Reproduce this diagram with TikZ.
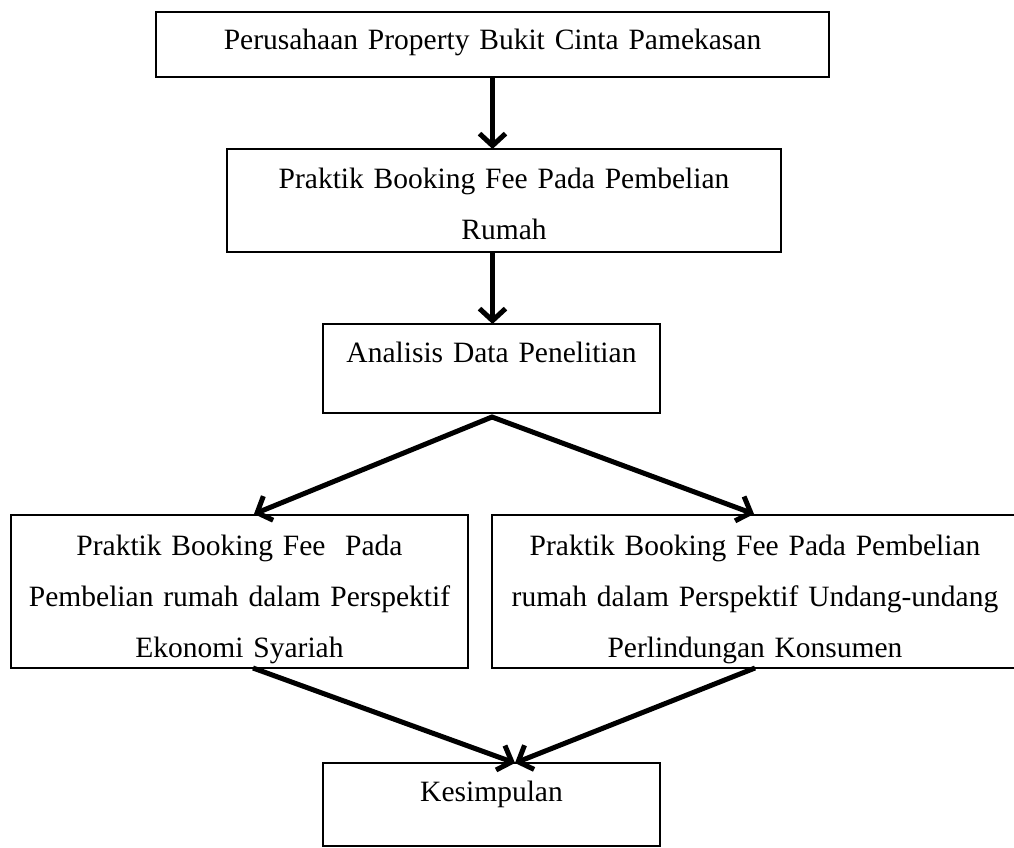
\documentclass[tikz,border=0pt]{standalone}
\usepackage{fontspec}
\setmainfont{Liberation Serif}
\usetikzlibrary{arrows.meta,calc}
\begin{document}
\begin{tikzpicture}[x=1pt,y=-1pt,
  box/.style={draw=black, line width=1.5pt, inner sep=0pt, outer sep=0pt, rectangle},
  txt/.style={inner sep=0pt, outer sep=0pt, align=center, anchor=base, font=\fontsize{29.5}{51}\selectfont},
  tipshape/.tip={Straight Barb[length=12pt,width=26pt]},
  arr/.style={line width=5pt, line join=miter, -tipshape}]
\useasboundingbox (0,0) rectangle (1014,848);
\clip (0,0) rectangle (1014,848);
% boxes
\node[box, minimum width=673pt, minimum height=65pt]  (b1) at (492.5,44.5) {};
\node[box, minimum width=554pt, minimum height=103pt] (b2) at (504,200.5) {};
\node[box, minimum width=337pt, minimum height=89pt]  (b3) at (491.5,368.5) {};
\node[box, minimum width=457pt, minimum height=153pt] (b4) at (239.5,591.5) {};
\node[box, minimum width=526pt, minimum height=153pt] (b5) at (755,591.5) {};
\node[box, minimum width=337pt, minimum height=83pt]  (b6) at (491.5,804.5) {};
% texts
\node[txt, text width=660pt] (t1) at (492.5,50) {Perusahaan Property Bukit Cinta Pamekasan};
\node[txt, text width=540pt] (t2) at (504,188) {Praktik Booking Fee Pada Pembelian\\Rumah};
\node[txt, text width=320pt] (t3) at (491.5,362) {Analisis Data Penelitian};
\node[txt, text width=445pt] (t4) at (239.5,555) {Praktik Booking Fee\ \ Pada\\Pembelian rumah dalam Perspektif\\Ekonomi Syariah};
\node[txt, text width=510pt] (t5) at (755,555) {Praktik Booking Fee Pada Pembelian\\rumah dalam Perspektif Undang-undang\\Perlindungan Konsumen};
\node[txt, text width=320pt] (t6) at (491.5,801) {Kesimpulan};
% connectors
\draw[arr] (b1.south) -- (b1.south |- b2.north);
\draw[arr] (b1.south |- b2.south) -- (b1.south |- b3.north);
\coordinate (split) at ($(b3.south)+(0.5,4)$);
\draw[arr, tipshape-tipshape] ($(b4.north)+(14.5,-1)$) -- (split) -- ($(b5.north)+(-1,-1)$);
\draw[arr] ($(b4.south)+(13.5,0)$) -- ($(b6.north)+(23.5,0)$);
\draw[arr] (b5.south) -- ($(b6.north)+(23.5,0)$);
\end{tikzpicture}
\end{document}
